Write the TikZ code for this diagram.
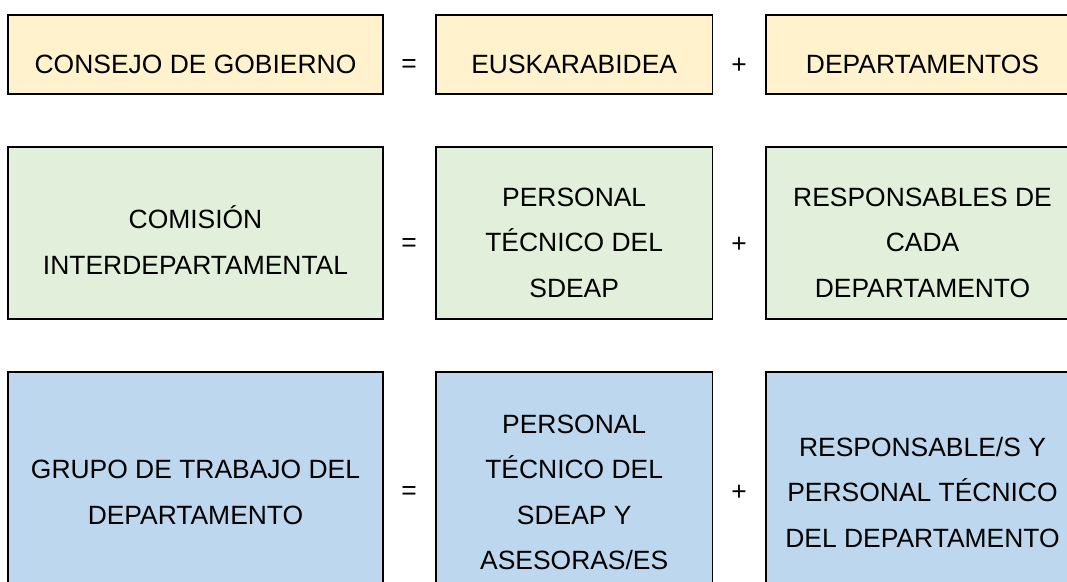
\documentclass[tikz,border=0pt]{standalone}
\usepackage{fontspec}
\setmainfont{Liberation Sans}
\usepackage{tikz}
\usetikzlibrary{positioning}

\definecolor{cellyellow}{HTML}{FFF2CC}
\definecolor{cellgreen}{HTML}{E2EFDA}
\definecolor{cellblue}{HTML}{BDD7EE}

% text sits a little below the middle of each box
\newcommand{\celltext}[1]{\raisebox{-6.76pt}[\height][\depth]{\begin{tabular}{@{}c@{}}#1\end{tabular}}}

\begin{document}
\begin{tikzpicture}[x=0.025cm,y=-0.025cm,
  cell/.style={draw=black,line width=1.2pt,inner sep=0pt,font=\fontsize{18.8}{32.4}\selectfont},
  sign/.style={inner sep=0pt,font=\fontsize{18.8}{32.4}\selectfont},
  rowone/.style={cell,fill=cellyellow,minimum height=1.9875cm},
  rowtwo/.style={cell,fill=cellgreen,minimum height=4.3cm},
  rowthree/.style={cell,fill=cellblue,minimum height=5.55cm},
  leftcol/.style={minimum width=9.375cm},
  midcol/.style={minimum width=6.9125cm},
  rightcol/.style={minimum width=7.825cm}]
\useasboundingbox (0,0) rectangle (1067,581);
\clip (0,0) rectangle (1067,581);

\node[rowone,leftcol]  (consejo)       at (195.5,54.5) {\celltext{CONSEJO DE GOBIERNO}};
\node[rowone,midcol]   (euskarabidea)  at (574.2,54.5) {\celltext{EUSKARABIDEA}};
\node[rowone,rightcol] (departamentos) at (922.5,54.5) {\celltext{DEPARTAMENTOS}};
\node[sign] (eqone)   at (409,66) {=};
\node[sign] (plusone) at (739,66) {+};

\node[rowtwo,leftcol]  (comision)     at (195.5,233) {\celltext{COMISIÓN\\INTERDEPARTAMENTAL}};
\node[rowtwo,midcol]   (tecnicos)     at (574.2,233) {\celltext{PERSONAL\\TÉCNICO DEL\\SDEAP}};
\node[rowtwo,rightcol] (responsables) at (922.5,233) {\celltext{RESPONSABLES DE\\CADA\\DEPARTAMENTO}};
\node[sign] (eqtwo)   at (409,245) {=};
\node[sign] (plustwo) at (739,245) {+};

\node[rowthree,leftcol]  (grupo)      at (195.5,483) {\celltext{GRUPO DE TRABAJO DEL\\DEPARTAMENTO}};
\node[rowthree,midcol]   (asesoras)   at (574.2,483) {\celltext{PERSONAL\\TÉCNICO DEL\\SDEAP Y\\ASESORAS/ES}};
\node[rowthree,rightcol] (personaldep) at (922.5,483) {\celltext{RESPONSABLE/S Y\\PERSONAL TÉCNICO\\DEL DEPARTAMENTO}};
\node[sign] (eqthree)   at (409,493) {=};
\node[sign] (plusthree) at (739,493) {+};

\end{tikzpicture}
\end{document}
